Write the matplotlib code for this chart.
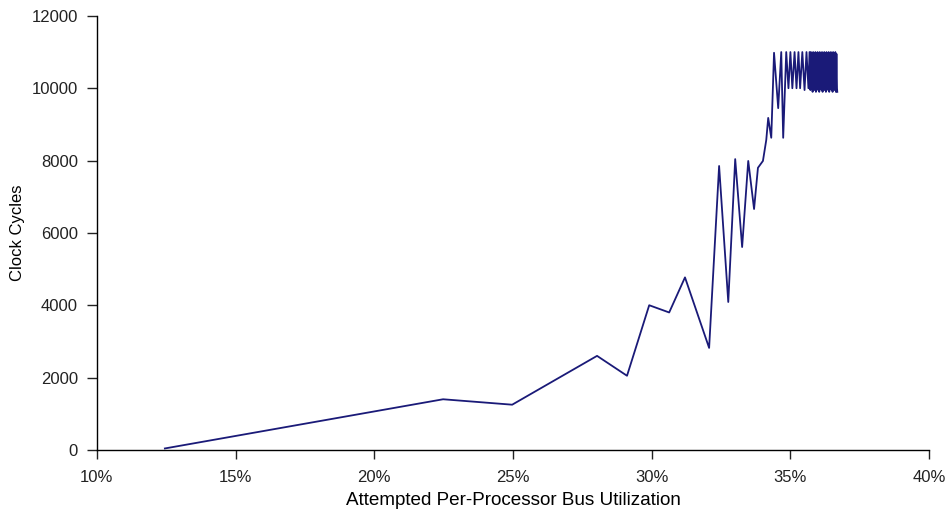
import matplotlib
matplotlib.use("Agg")
import matplotlib.pyplot as plt
from matplotlib.ticker import FuncFormatter

# attempted per-processor bus utilization (%) and clock cycles
utilization = [12.45, 22.48, 24.97, 28.03, 29.11, 29.91, 30.63, 31.20, 32.07,
               32.43, 32.76, 33.01, 33.26, 33.48, 33.69, 33.83, 34.01, 34.13,
               34.20, 34.31, 34.41, 34.56, 34.67, 34.74, 34.85, 34.93, 35.00,
               35.07, 35.15, 35.22, 35.29, 35.35, 35.43, 35.51, 35.58, 35.65,
               35.69, 35.72, 35.74, 35.76, 35.78, 35.80, 35.82, 35.84, 35.86,
               35.88, 35.90, 35.92, 35.94, 35.96, 35.98, 36.00, 36.02, 36.04,
               36.06, 36.08, 36.10, 36.12, 36.14, 36.16, 36.18, 36.20, 36.22,
               36.24, 36.26, 36.28, 36.30, 36.32, 36.34, 36.36, 36.38, 36.40,
               36.42, 36.44, 36.46, 36.48, 36.50, 36.52, 36.54, 36.56, 36.58,
               36.60, 36.62, 36.64, 36.66, 36.68, 36.69]
cycles = [40, 1400, 1250, 2600, 2050, 4000, 3800, 4770, 2820,
          7850, 4090, 8040, 5610, 7990, 6660, 7800, 7990, 8570,
          9180, 8630, 10980, 9450, 11000, 8630, 11000, 10000, 11000,
          10000, 11000, 10000, 11000, 10000, 11000, 9950, 11000, 10000,
          11000, 9950, 11000, 10000, 10950, 9900, 11000, 10000, 10950,
          9950, 11000, 9900, 10950, 10000, 11000, 9950, 10950, 9900,
          11000, 10000, 10950, 9950, 11000, 9900, 10950, 10000, 11000,
          9950, 10950, 9900, 11000, 10000, 10950, 9950, 11000, 9900,
          10950, 10000, 11000, 9950, 10950, 9900, 11000, 10000, 10950,
          9950, 11000, 9900, 10950, 10000, 9900]

x_ticks = [10, 15, 20, 25, 30, 35, 40]
y_ticks = [0, 2000, 4000, 6000, 8000, 10000, 12000]

plt.rcParams['font.family'] = ['Liberation Sans', 'DejaVu Sans']

fig = plt.figure(figsize=(9.5, 5.13), dpi=100)
ax = fig.add_axes([0.102, 0.123, 0.876, 0.846])

ax.plot(utilization, cycles, color='#1a1a78', linewidth=1.3)

ax.set_xlim(10, 40)
ax.set_ylim(0, 12000)
ax.set_xticks(x_ticks)
ax.set_yticks(y_ticks)
ax.xaxis.set_major_formatter(FuncFormatter(lambda v, p: '%d%%' % v))

for s in ['top', 'right']:
    ax.spines[s].set_visible(False)
ax.spines['left'].set_linewidth(1.0)
ax.spines['bottom'].set_linewidth(1.0)
ax.tick_params(axis='both', direction='out', width=1.0,
               labelsize=12, colors='#222222')
ax.tick_params(axis='x', length=6.5, pad=8)
ax.tick_params(axis='y', length=7.2, pad=6.5)

ax.set_xlabel('Attempted Per-Processor Bus Utilization', fontsize=13.6, labelpad=5)
ax.set_ylabel('Clock Cycles', fontsize=12, labelpad=5)

fig.savefig('out.png', dpi=100)
